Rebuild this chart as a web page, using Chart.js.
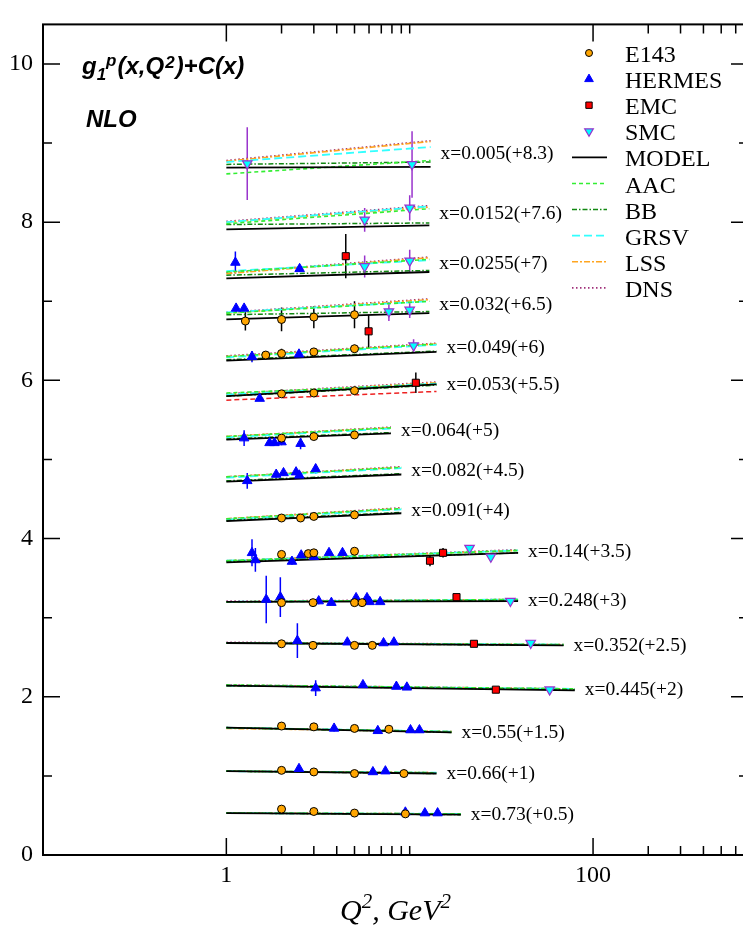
<!DOCTYPE html>
<html>
<head>
<meta charset="utf-8">
<script src="https://cdn.jsdelivr.net/npm/chart.js@4.4.1/dist/chart.umd.min.js"></script>
<style>
  html, body { margin: 0; padding: 0; background: #fff; overflow: hidden; }
  #wrap { width: 760px; height: 937px; }
</style>
</head>
<body>
<div id="wrap"><canvas id="chart" width="760" height="937"></canvas></div>
<script>
// x bins, the offset C(x) added to each, and the Q^2 where the fits stop
const xBins = ['0.005', '0.0152', '0.0255', '0.032', '0.049', '0.053', '0.064', '0.082',
  '0.091', '0.14', '0.248', '0.352', '0.445', '0.55', '0.66', '0.73'];
const shifts = ['8.3', '7.6', '7', '6.5', '6', '5.5', '5', '4.5', '4', '3.5', '3', '2.5', '2', '1.5', '1', '0.5'];
const q2Min = 1;
const q2Max = [13, 12.8, 12.8, 12.8, 14, 14, 7.9, 9, 9, 39, 39, 69, 79.5, 16.9, 14, 19];

// g1 + C(x) of each fit at Q^2 = 1 (Lo) and at q2Max (Hi)
const modelLo = [8.69, 7.91, 7.29, 6.77, 6.25, 5.80, 5.25, 4.72, 4.22, 3.70, 3.20, 2.68, 2.14, 1.61, 1.06, 0.53];
const modelHi = [8.70, 7.96, 7.37, 6.85, 6.36, 5.95, 5.33, 4.81, 4.32, 3.82, 3.21, 2.65, 2.08, 1.55, 1.03, 0.51];
const aacLo = [8.61, 7.98, 7.37, 6.85, 6.30, 5.84, 5.29, 4.78, 4.25, 3.72, 3.20, 2.68, 2.15, 1.61, 1.06, 0.53];
const aacHi = [8.78, 8.17, 7.53, 7.00, 6.46, 5.95, 5.40, 4.90, 4.38, 3.85, 3.23, 2.66, 2.10, 1.56, 1.04, 0.52];
const bbLo = [8.73, 7.97, 7.33, 6.83, 6.26, 5.80, 5.26, 4.73, 4.23, 3.71, 3.20, 2.68, 2.14, 1.61, 1.06, 0.53];
const bbHi = [8.76, 7.99, 7.39, 6.87, 6.37, 5.94, 5.34, 4.82, 4.33, 3.82, 3.22, 2.65, 2.09, 1.55, 1.03, 0.51];
const grsvLo = [8.76, 8.00, 7.38, 6.86, 6.29, 5.82, 5.28, 4.77, 4.24, 3.72, 3.20, 2.68, 2.14, 1.61, 1.06, 0.53];
const grsvHi = [8.95, 8.20, 7.52, 7.00, 6.45, 5.96, 5.39, 4.89, 4.37, 3.85, 3.23, 2.66, 2.10, 1.56, 1.04, 0.52];
const lssLo = [8.77, 8.00, 7.35, 6.85, 6.30, 5.82, 5.29, 4.78, 4.25, 3.72, 3.20, 2.68, 2.14, 1.60, 1.06, 0.53];
const lssHi = [9.02, 8.19, 7.55, 7.02, 6.46, 5.97, 5.40, 4.90, 4.38, 3.85, 3.23, 2.66, 2.10, 1.56, 1.04, 0.52];
const dnsLo = [8.78, 8.01, 7.36, 6.86, 6.31, 5.83, 5.29, 4.78, 4.25, 3.72, 3.21, 2.69, 2.15, 1.61, 1.06, 0.53];
const dnsHi = [9.03, 8.21, 7.56, 7.03, 6.47, 5.98, 5.41, 4.91, 4.39, 3.86, 3.23, 2.66, 2.10, 1.56, 1.04, 0.52];
// extra red dashed curve, only in the x=0.053 bin
const extraBin = [5];
const extraLo = [5.75];
const extraHi = [5.86];

// data points: Q^2, g1 + C(x), error
const e143Q2 = [1.27, 2, 3, 5, 1.64, 2, 3, 5, 2, 3, 5, 2, 3, 5, 2, 2.54, 3, 5, 2, 2.8, 3, 5,
  2, 2.97, 5, 5.5, 2, 2.97, 5, 6.25, 2, 3, 5, 7.7, 2, 3, 5, 9.3, 2, 3, 5, 9.47];
const e143Val = [6.75, 6.77, 6.80, 6.83, 6.32, 6.34, 6.36, 6.40, 5.83, 5.84, 5.87, 5.27, 5.29, 5.31,
  4.26, 4.26, 4.28, 4.30, 3.80, 3.81, 3.82, 3.84, 3.19, 3.19, 3.19, 3.19, 2.67, 2.65, 2.65, 2.65,
  1.63, 1.62, 1.60, 1.59, 1.07, 1.05, 1.03, 1.03, 0.58, 0.55, 0.53, 0.52];
const e143Err = [0.12, 0.15, 0.14, 0.17, 0.05, 0.06, 0.05, 0.05, 0.04, 0.04, 0.04, 0.03, 0.03, 0.03,
  0.03, 0.03, 0.03, 0.03, 0.03, 0.03, 0.03, 0.03, 0.02, 0.02, 0.02, 0.02, 0.02, 0.02, 0.02, 0.02,
  0.02, 0.02, 0.02, 0.02, 0.02, 0.02, 0.02, 0.02, 0.02, 0.02, 0.02, 0.02];

const hermesQ2 = [1.12, 2.51, 1.13, 1.25, 1.38, 2.49, 1.52, 1.25, 1.72, 1.83, 2.0, 2.54,
  1.3, 1.87, 2.05, 2.4, 2.5, 3.07, 1.38, 1.44, 2.28, 2.56, 3.0, 3.63, 4.3,
  1.65, 1.97, 3.19, 3.74, 5.1, 5.85, 6.05, 6.9, 2.44, 4.57, 7.2, 8.2,
  3.07, 5.56, 8.46, 9.65, 3.87, 6.7, 10.1, 11.3, 2.49, 6.3, 7.37, 9.47, 12.1, 14.2];
const hermesVal = [7.49, 7.41, 6.91, 6.91, 6.30, 6.33, 5.77, 5.27, 5.21, 5.21, 5.22, 5.20,
  4.73, 4.81, 4.83, 4.84, 4.80, 4.88, 3.82, 3.73, 3.71, 3.79, 3.77, 3.82, 3.82,
  3.23, 3.26, 3.21, 3.19, 3.25, 3.25, 3.20, 3.20, 2.71, 2.69, 2.68, 2.69,
  2.11, 2.15, 2.13, 2.12, 1.60, 1.57, 1.58, 1.58, 1.09, 1.05, 1.06, 0.54, 0.53, 0.53];
const hermesErr = [0.14, 0.04, 0.05, 0.05, 0.07, 0.03, 0.03, 0.10, 0.04, 0.04, 0.04, 0.07,
  0.10, 0.04, 0.04, 0.04, 0.04, 0.06, 0.17, 0.15, 0.04, 0.04, 0.04, 0.03, 0.03,
  0.30, 0.25, 0.04, 0.03, 0.03, 0.03, 0.03, 0.03, 0.22, 0.03, 0.03, 0.03,
  0.10, 0.03, 0.03, 0.03, 0.04, 0.03, 0.03, 0.03, 0.02, 0.03, 0.03, 0.03, 0.03, 0.03];

const emcQ2 = [4.48, 5.97, 10.8, 12.9, 15.2, 18, 22.4, 29.5];
const emcVal = [7.57, 6.62, 5.97, 3.72, 3.82, 3.26, 2.67, 2.09];
const emcErr = [0.28, 0.21, 0.13, 0.07, 0.06, 0.03, 0.03, 0.03];

const smcQ2 = [1.3, 10.3, 5.68, 10.0, 5.68, 10.0, 7.7, 10.0, 10.5, 21.2, 27.7, 35.4, 45.7, 58];
const smcVal = [8.74, 8.73, 8.03, 8.18, 7.44, 7.51, 6.87, 6.89, 6.44, 3.88, 3.77, 3.21, 2.68, 2.09];
const smcErr = [0.46, 0.42, 0.15, 0.16, 0.14, 0.14, 0.12, 0.10, 0.08, 0.03, 0.04, 0.03, 0.03, 0.03];

// axis ticks
const xMajor = [1, 100];
const yMajor = [0, 2, 4, 6, 8, 10];
const yMinor = [1, 3, 5, 7, 9];

const SERIF = '"Liberation Serif", "Times New Roman", serif';
const SANS = '"Liberation Sans", Arial, sans-serif';

function points(q, v) {
  return q.map((x, i) => ({ x: x, y: v[i] }));
}

// one broken line per fit: a segment per bin, separated by a gap
function curve(lo, hi, bins) {
  const out = [];
  lo.forEach((v, k) => {
    const i = bins ? bins[k] : k;
    out.push({ x: q2Min, y: v }, { x: q2Max[i], y: hi[k] }, { x: q2Max[i], y: null });
  });
  return out;
}

function lineSet(label, lo, hi, color, dash, width, bins) {
  return {
    type: 'line', label: label, data: curve(lo, hi, bins),
    borderColor: color, borderDash: dash, borderWidth: width,
    pointRadius: 0, spanGaps: false, tension: 0, fill: false
  };
}

const datasets = [
  { label: 'E143', data: points(e143Q2, e143Val), errors: e143Err, errColor: '#000',
    pointStyle: 'circle', pointRadius: 4, backgroundColor: '#FFA500', borderColor: '#000', borderWidth: 1 },
  { label: 'HERMES', data: points(hermesQ2, hermesVal), errors: hermesErr, errColor: '#0000FF',
    pointStyle: 'triangle', pointRadius: 5.5, backgroundColor: '#0000FF', borderColor: '#0000FF', borderWidth: 1 },
  { label: 'EMC', data: points(emcQ2, emcVal), errors: emcErr, errColor: '#000',
    pointStyle: 'rect', pointRadius: 5, backgroundColor: '#FF0000', borderColor: '#000', borderWidth: 1 },
  { label: 'SMC', data: points(smcQ2, smcVal), errors: smcErr, errColor: '#9933CC',
    pointStyle: 'triangle', pointRotation: 180, pointRadius: 5.5, backgroundColor: '#00FFFF', borderColor: '#9933CC', borderWidth: 1.2 },
  lineSet('MODEL', modelLo, modelHi, '#000000', [], 1.8),
  lineSet('AAC', aacLo, aacHi, '#33EE33', [4, 3], 1.6),
  lineSet('BB', bbLo, bbHi, '#118811', [5, 2, 1.5, 2], 1.5),
  lineSet('GRSV', grsvLo, grsvHi, '#33FFFF', [8, 4], 1.8),
  lineSet('LSS', lssLo, lssHi, '#FFA520', [6, 2, 2, 2], 1.6),
  lineSet('DNS', dnsLo, dnsHi, '#A0307A', [1.5, 2.5], 1.6),
  lineSet('extra', extraLo, extraHi, '#EE2222', [5, 3], 1.5, extraBin)
];
datasets.forEach(d => { if (!d.type) d.type = 'scatter'; });

// vertical error bars, drawn under the markers
const errorBars = {
  id: 'errorBars',
  beforeDatasetsDraw(chart) {
    const { ctx, chartArea: a, scales: { x, y } } = chart;
    ctx.save();
    ctx.beginPath();
    ctx.rect(a.left, a.top, a.right - a.left, a.bottom - a.top);
    ctx.clip();
    ctx.lineWidth = 1.5;
    chart.data.datasets.forEach(ds => {
      if (!ds.errors) return;
      ctx.strokeStyle = ds.errColor;
      ds.data.forEach((p, i) => {
        const px = x.getPixelForValue(p.x);
        ctx.beginPath();
        ctx.moveTo(px, y.getPixelForValue(p.y - ds.errors[i]));
        ctx.lineTo(px, y.getPixelForValue(p.y + ds.errors[i]));
        ctx.stroke();
      });
    });
    ctx.restore();
  }
};

// box with inward ticks on all four sides
const frame = {
  id: 'frame',
  afterDatasetsDraw(chart) {
    const { ctx, chartArea: a, scales: { x, y } } = chart;
    const xMinor = [];
    [0.01, 1, 100].forEach(m => {
      for (let k = 2; k <= 10; k++) {
        const v = m * k;
        if (v > x.min && v < x.max) xMinor.push(v);
      }
    });
    ctx.save();
    ctx.strokeStyle = '#000';
    ctx.lineWidth = 1.5;
    const tickX = (v, len) => {
      const px = x.getPixelForValue(v);
      ctx.beginPath();
      ctx.moveTo(px, a.bottom); ctx.lineTo(px, a.bottom - len);
      ctx.moveTo(px, a.top); ctx.lineTo(px, a.top + len);
      ctx.stroke();
    };
    const tickY = (v, len) => {
      const py = y.getPixelForValue(v);
      ctx.beginPath();
      ctx.moveTo(a.left, py); ctx.lineTo(a.left + len, py);
      ctx.moveTo(a.right, py); ctx.lineTo(a.right - len, py);
      ctx.stroke();
    };
    xMajor.forEach(v => tickX(v, 17));
    xMinor.forEach(v => tickX(v, 9));
    yMajor.forEach(v => tickY(v, 17));
    yMinor.forEach(v => tickY(v, 9));
    ctx.lineWidth = 2;
    ctx.strokeRect(a.left, a.top, a.right - a.left, a.bottom - a.top);
    ctx.restore();
  }
};

// "x=...(+C)" next to the end of each bin's curves
const binLabels = {
  id: 'binLabels',
  afterDatasetsDraw(chart) {
    const { ctx, scales: { x, y } } = chart;
    ctx.save();
    ctx.font = '19.5px ' + SERIF;
    ctx.fillStyle = '#000';
    ctx.textBaseline = 'middle';
    xBins.forEach((b, i) => {
      const ends = [modelHi, aacHi, bbHi, grsvHi, lssHi, dnsHi].map(arr => arr[i]);
      const yv = ends.reduce((s, v) => s + v, 0) / ends.length;
      ctx.fillText('x=' + b + '(+' + shifts[i] + ')', x.getPixelForValue(q2Max[i]) + 10, y.getPixelForValue(yv) + 1);
    });
    ctx.restore();
  }
};

// draws runs of text with sub/superscripts, returns the width
function runs(ctx, parts, x0, base, draw) {
  let x = x0;
  parts.forEach(p => {
    ctx.font = p.font;
    if (draw) ctx.fillText(p.t, x, base + (p.dy || 0));
    x += ctx.measureText(p.t).width + (p.gap || 0);
  });
  return x - x0;
}

const texts = {
  id: 'texts',
  afterDraw(chart) {
    const { ctx, chartArea: a } = chart;
    ctx.save();
    ctx.fillStyle = '#000';
    ctx.textBaseline = 'alphabetic';
    const big = 'italic bold 24px ' + SANS;
    const small = 'italic bold 17px ' + SANS;
    runs(ctx, [
      { t: 'g', font: big },
      { t: '1', font: small, dy: 6 },
      { t: 'p', font: small, dy: -8, gap: 1 },
      { t: '(x,Q', font: big, gap: 1 },
      { t: '2', font: small, dy: -6, gap: 1 },
      { t: ')+C(x)', font: big }
    ], 82, 74, true);
    ctx.font = big;
    ctx.fillText('NLO', 86, 127);

    // axis title
    const main = 'italic 30px ' + SERIF;
    const sup = 'italic 21px ' + SERIF;
    const parts = [
      { t: 'Q', font: main },
      { t: '2', font: sup, dy: -12 },
      { t: ', GeV', font: main },
      { t: '2', font: sup, dy: -12 }
    ];
    const w = runs(ctx, parts, 0, 0, false);
    runs(ctx, parts, (a.left + a.right) / 2 - w / 2, 920, true);

    // legend
    const lx = 589, ly = 53, dy = 26.1;
    chart.data.datasets.slice(0, 10).forEach((ds, i) => {
      const yy = ly + i * dy;
      if (ds.type === 'line') {
        ctx.strokeStyle = ds.borderColor;
        ctx.lineWidth = ds.borderWidth;
        ctx.setLineDash(ds.borderDash);
        ctx.beginPath();
        ctx.moveTo(572, yy); ctx.lineTo(607, yy);
        ctx.stroke();
        ctx.setLineDash([]);
      } else {
        ctx.fillStyle = ds.backgroundColor;
        ctx.strokeStyle = ds.borderColor;
        ctx.lineWidth = ds.borderWidth;
        Chart.helpers.drawPoint(ctx, {
          pointStyle: ds.pointStyle, radius: ds.pointRadius - 0.5,
          rotation: ds.pointRotation || 0, borderWidth: ds.borderWidth
        }, lx, yy);
      }
      ctx.fillStyle = '#000';
      ctx.font = '24px ' + SERIF;
      ctx.fillText(ds.label, 625, yy + 9);
    });
    ctx.restore();
  }
};

new Chart(document.getElementById('chart'), {
  type: 'scatter',
  data: { datasets: datasets },
  options: {
    responsive: false,
    animation: false,
    layout: { padding: { top: 2, right: 12, left: 0, bottom: 0 } },
    plugins: { legend: { display: false }, tooltip: { enabled: false } },
    scales: {
      x: {
        type: 'logarithmic', min: 0.1, max: 700,
        grid: { display: false, drawTicks: false }, border: { display: false },
        afterBuildTicks: s => { s.ticks = xMajor.map(v => ({ value: v })); },
        afterFit: s => { s.height = 82; },
        ticks: {
          autoSkip: false, maxRotation: 0, padding: 6, color: '#000',
          font: { family: SERIF, size: 24 },
          callback: v => String(v)
        }
      },
      y: {
        type: 'linear', min: 0, max: 10.5,
        grid: { display: false, drawTicks: false }, border: { display: false },
        afterBuildTicks: s => { s.ticks = yMajor.map(v => ({ value: v })); },
        afterFit: s => { s.width = 43; },
        ticks: {
          padding: 10, color: '#000',
          font: { family: SERIF, size: 24 },
          callback: v => String(v)
        }
      }
    }
  },
  plugins: [errorBars, frame, binLabels, texts]
});
</script>
</body>
</html>
